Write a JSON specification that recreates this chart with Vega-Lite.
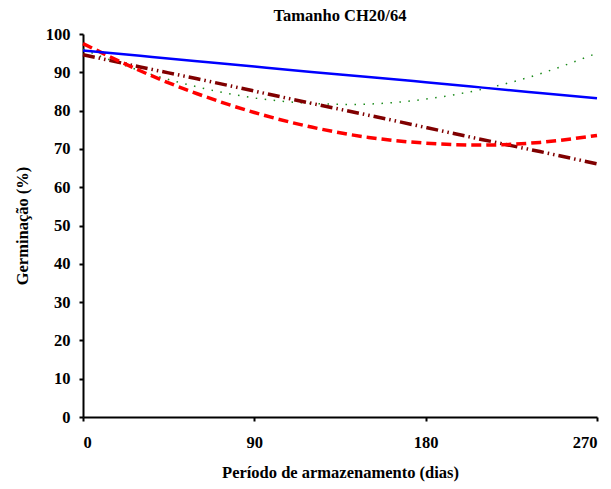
{
  "$schema": "https://vega.github.io/schema/vega-lite/v6.json",
  "autosize": "none",
  "padding": {"left": 83, "top": 34, "right": 14, "bottom": 72},
  "width": 514,
  "height": 383,
  "background": "white",
  "title": {
    "text": "Tamanho CH20/64",
    "font": "Liberation Serif",
    "fontSize": 16.5,
    "fontWeight": "bold",
    "color": "black",
    "anchor": "middle",
    "offset": 2
  },
  "config": {
    "view": {"stroke": null},
    "axis": {
      "grid": false,
      "domainColor": "black",
      "domainWidth": 2,
      "tickColor": "black",
      "tickWidth": 2,
      "tickSize": 4,
      "labelFont": "Liberation Serif",
      "labelFontWeight": "bold",
      "labelFontSize": 16.5,
      "labelColor": "black",
      "titleFont": "Liberation Serif",
      "titleFontWeight": "bold",
      "titleFontSize": 16.5,
      "titleColor": "black"
    }
  },
  "data": {
    "values": [
      {"dias": 0, "germ": 95.7, "serie": "A"},
      {"dias": 30, "germ": 94.3, "serie": "A"},
      {"dias": 60, "germ": 92.9, "serie": "A"},
      {"dias": 90, "germ": 91.5, "serie": "A"},
      {"dias": 120, "germ": 90.1, "serie": "A"},
      {"dias": 150, "germ": 88.8, "serie": "A"},
      {"dias": 180, "germ": 87.4, "serie": "A"},
      {"dias": 210, "germ": 86.0, "serie": "A"},
      {"dias": 240, "germ": 84.6, "serie": "A"},
      {"dias": 270, "germ": 83.2, "serie": "A"},
      {"dias": 0, "germ": 97.5, "serie": "B"},
      {"dias": 30, "germ": 90.4, "serie": "B"},
      {"dias": 60, "germ": 84.4, "serie": "B"},
      {"dias": 90, "germ": 79.5, "serie": "B"},
      {"dias": 120, "germ": 75.7, "serie": "B"},
      {"dias": 150, "germ": 73.0, "serie": "B"},
      {"dias": 180, "germ": 71.5, "serie": "B"},
      {"dias": 210, "germ": 71.0, "serie": "B"},
      {"dias": 240, "germ": 71.7, "serie": "B"},
      {"dias": 270, "germ": 73.5, "serie": "B"},
      {"dias": 0, "germ": 94.6, "serie": "C"},
      {"dias": 30, "germ": 91.4, "serie": "C"},
      {"dias": 60, "germ": 88.3, "serie": "C"},
      {"dias": 90, "germ": 85.1, "serie": "C"},
      {"dias": 120, "germ": 81.9, "serie": "C"},
      {"dias": 150, "germ": 78.8, "serie": "C"},
      {"dias": 180, "germ": 75.6, "serie": "C"},
      {"dias": 210, "germ": 72.4, "serie": "C"},
      {"dias": 240, "germ": 69.3, "serie": "C"},
      {"dias": 270, "germ": 66.1, "serie": "C"},
      {"dias": 0, "germ": 96.0, "serie": "D"},
      {"dias": 30, "germ": 90.4, "serie": "D"},
      {"dias": 60, "germ": 86.2, "serie": "D"},
      {"dias": 90, "germ": 83.3, "serie": "D"},
      {"dias": 120, "germ": 81.9, "serie": "D"},
      {"dias": 150, "germ": 81.7, "serie": "D"},
      {"dias": 180, "germ": 83.0, "serie": "D"},
      {"dias": 210, "germ": 85.6, "serie": "D"},
      {"dias": 240, "germ": 89.6, "serie": "D"},
      {"dias": 270, "germ": 95.0, "serie": "D"}
    ]
  },
  "encoding": {
    "x": {
      "field": "dias",
      "type": "quantitative",
      "scale": {"domain": [0, 270], "nice": false},
      "axis": {"values": [0, 90, 180, 270], "labelPadding": 13, "titlePadding": 14, "title": "Período de armazenamento (dias)"}
    },
    "y": {
      "field": "germ",
      "type": "quantitative",
      "scale": {"domain": [0, 100], "nice": false},
      "axis": {"values": [0, 10, 20, 30, 40, 50, 60, 70, 80, 90, 100], "labelPadding": 9, "titlePadding": 15, "title": "Germinação (%)"}
    }
  },
  "layer": [
    {
      "transform": [{"filter": "datum.serie === 'D'"}],
      "mark": {"type": "line", "interpolate": "natural", "color": "#1a8a1a", "strokeWidth": 1.5, "strokeDash": [1.5, 7.5]}
    },
    {
      "transform": [{"filter": "datum.serie === 'C'"}],
      "mark": {"type": "line", "interpolate": "natural", "color": "#800000", "strokeWidth": 3.5, "strokeDash": [12, 4, 1.5, 4, 1.5, 4]}
    },
    {
      "transform": [{"filter": "datum.serie === 'B'"}],
      "mark": {"type": "line", "interpolate": "natural", "color": "#ff0000", "strokeWidth": 3.5, "strokeDash": [10, 5]}
    },
    {
      "transform": [{"filter": "datum.serie === 'A'"}],
      "mark": {"type": "line", "interpolate": "natural", "color": "#0000ff", "strokeWidth": 2.5}
    }
  ]
}
